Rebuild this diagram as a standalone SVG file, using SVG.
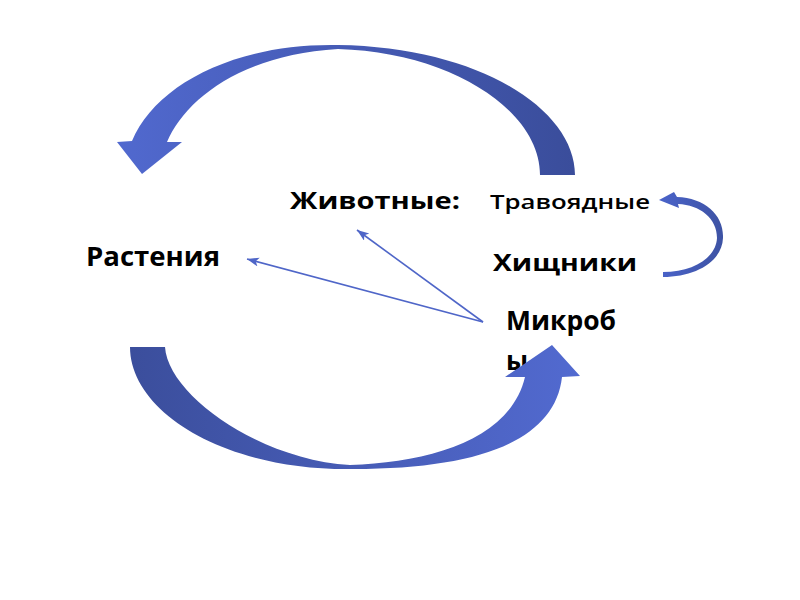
<svg xmlns="http://www.w3.org/2000/svg" width="800" height="600" viewBox="0 0 800 600">
  <style>
    .lbl { font-family: "Open Sans", "Noto Sans", "Liberation Sans", sans-serif; font-weight: 700; fill: #000; }
    .thin { fill: none; stroke: #4f66c8; stroke-width: 1.6; marker-end: url(#ah); }
  </style>
  <defs>
    <linearGradient id="gTop" gradientUnits="userSpaceOnUse" x1="115" y1="0" x2="575" y2="0">
      <stop offset="0" stop-color="#5169cf"/>
      <stop offset="1" stop-color="#3a4d9b"/>
    </linearGradient>
    <linearGradient id="gBot" gradientUnits="userSpaceOnUse" x1="130" y1="0" x2="580" y2="0">
      <stop offset="0" stop-color="#3b4e9c"/>
      <stop offset="1" stop-color="#526ad0"/>
    </linearGradient>
    <linearGradient id="gSmall" gradientUnits="userSpaceOnUse" x1="660" y1="0" x2="724" y2="0">
      <stop offset="0" stop-color="#4a63c9"/>
      <stop offset="1" stop-color="#3d52a3"/>
    </linearGradient>
    <marker id="ah" markerUnits="userSpaceOnUse" markerWidth="14" markerHeight="10" refX="12" refY="4.5" orient="auto">
      <path d="M0,0 L12,4.5 L0,9 L3,4.5 Z" fill="#4f66c8"/>
    </marker>
  </defs>

  <g id="node-rastenia">
    <text class="lbl" x="86" y="266" font-size="27" textLength="134" lengthAdjust="spacingAndGlyphs">Растения</text>
  </g>
  <g id="node-zhivotnye">
    <text class="lbl" x="290" y="209" font-size="24" textLength="170" lengthAdjust="spacingAndGlyphs">Животные:</text>
  </g>
  <g id="node-travoyadnye">
    <text class="lbl" x="490" y="209" font-size="20" style="font-weight:600" textLength="160" lengthAdjust="spacingAndGlyphs">Травоядные</text>
  </g>
  <g id="node-hishchniki">
    <text class="lbl" x="493" y="271" font-size="24" textLength="144" lengthAdjust="spacingAndGlyphs">Хищники</text>
  </g>
  <g id="node-mikroby">
    <text class="lbl" x="506" y="330" font-size="26" textLength="110" lengthAdjust="spacingAndGlyphs">Микроб</text>
    <text class="lbl" x="506" y="370" font-size="26">ы</text>
  </g>

  <g id="connectors">
    <line class="thin" x1="483" y1="322" x2="247" y2="259"/>
    <line class="thin" x1="483" y1="322" x2="357" y2="230"/>
    <path id="arrow-top" fill="url(#gTop)" d="M575,175 C575,110 480,47 338,45 C235,43 155,85 132,141 L117,142 L142,174 L182,142 L167,142 C185,100 240,55 338,49 C450,52 540,110 540,175 Z"/>
    <path id="arrow-bottom" fill="url(#gBot)" d="M130,347 C130,410 220,469 347,469 C480,470 555,440 562,377 L580,376 L552,345 L505,377 L525,377 C510,440 430,462 350,465 C260,460 168,395 165,347 Z"/>
    <path id="arrow-small" fill="url(#gSmall)" d="M677,197 C705,198 724,215 723,238 C722,262 695,277 663,277 L663,272 C693,272 716,258 717,238 C717,218 700,205 678,204 L679,208 L659,200 L674,192 Z"/>
  </g>
</svg>
